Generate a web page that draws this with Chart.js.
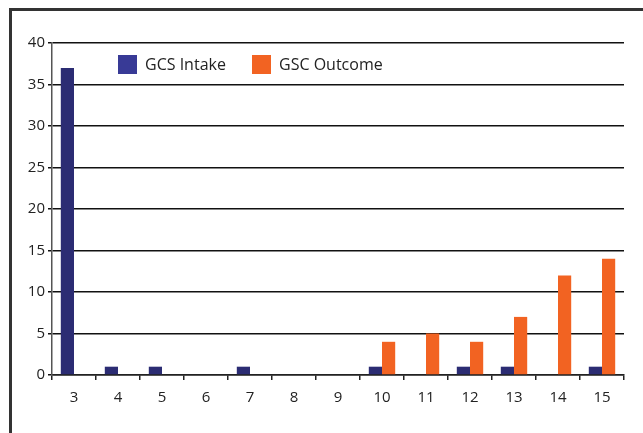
<!DOCTYPE html>
<html>
<head>
<meta charset="utf-8">
<script src="https://cdn.jsdelivr.net/npm/chart.js@4"></script>
<style>
  html, body { margin: 0; padding: 0; background: #fff; }
  #wrap { position: relative; width: 643px; height: 433px; overflow: hidden; }
  #frame { position: absolute; left: 9px; top: 8px; width: 700px; height: 500px;
           border-left: 3px solid #333; border-top: 3px solid #333; }
  #chart { position: absolute; left: 0; top: 0; }
  .leg { position: absolute; top: 55px; font: 16px "Open Sans", sans-serif; color: #222; line-height: 19px; }
  .leg span { display: inline-block; width: 19px; height: 19px; vertical-align: top; margin-right: 8px; }
</style>
</head>
<body>
<div id="wrap">
  <div id="frame"></div>
  <canvas id="chart" width="643" height="433"></canvas>
  <div id="legend"></div>
</div>
<script>
var categories = ['3', '4', '5', '6', '7', '8', '9', '10', '11', '12', '13', '14', '15'];
var gcsIntake = [37, 1, 1, 0, 1, 0, 0, 1, 0, 1, 1, 0, 1];
var gscOutcome = [0, 0, 0, 0, 0, 0, 0, 4, 5, 4, 7, 12, 14];
var yTicks = [0, 5, 10, 15, 20, 25, 30, 35, 40];

document.addEventListener('DOMContentLoaded', function () {
    var ctx = document.getElementById('chart').getContext('2d');
    var chart = new Chart(ctx, {
        type: 'bar',
        data: {
            labels: categories,
            datasets: [{
                label: 'GCS Intake',
                data: gcsIntake,
                backgroundColor: '#2b2c73',
                legendColor: '#383a96'
            }, {
                label: 'GSC Outcome',
                data: gscOutcome,
                backgroundColor: '#f26322',
                legendColor: '#f26322'
            }]
        },
        options: {
            responsive: false,
            animation: false,
            layout: { padding: { left: 0, top: 43, right: 19, bottom: 0 } },
            datasets: { bar: { categoryPercentage: 0.6, barPercentage: 1.0 } },
            plugins: { legend: { display: false }, tooltip: { enabled: false } },
            scales: {
                x: {
                    afterFit: function (s) { s.height = 58; },
                    grid: { display: true, drawOnChartArea: false, tickLength: 5, color: '#222', lineWidth: 1.5 },
                    border: { color: '#222', width: 1.5 },
                    ticks: { color: '#222', padding: 9, font: { family: 'Open Sans', size: 15 } }
                },
                y: {
                    min: 0,
                    max: 40,
                    afterFit: function (s) { s.width = 52; },
                    afterBuildTicks: function (s) { s.ticks = yTicks.map(function (v) { return { value: v }; }); },
                    grid: { color: '#111', lineWidth: 1.5, tickLength: 4 },
                    border: { color: '#555', width: 1.5 },
                    ticks: { color: '#222', padding: 3, font: { family: 'Open Sans', size: 15 } }
                }
            }
        }
    });

    // legend inside the plot, as in the original
    var legend = document.getElementById('legend');
    var lefts = [118, 252];
    chart.data.datasets.forEach(function (ds, i) {
        var item = document.createElement('div');
        item.className = 'leg';
        item.style.left = lefts[i] + 'px';
        item.innerHTML = '<span style="background:' + ds.legendColor + '"></span>' + ds.label;
        legend.appendChild(item);
    });
});
</script>
</body>
</html>
